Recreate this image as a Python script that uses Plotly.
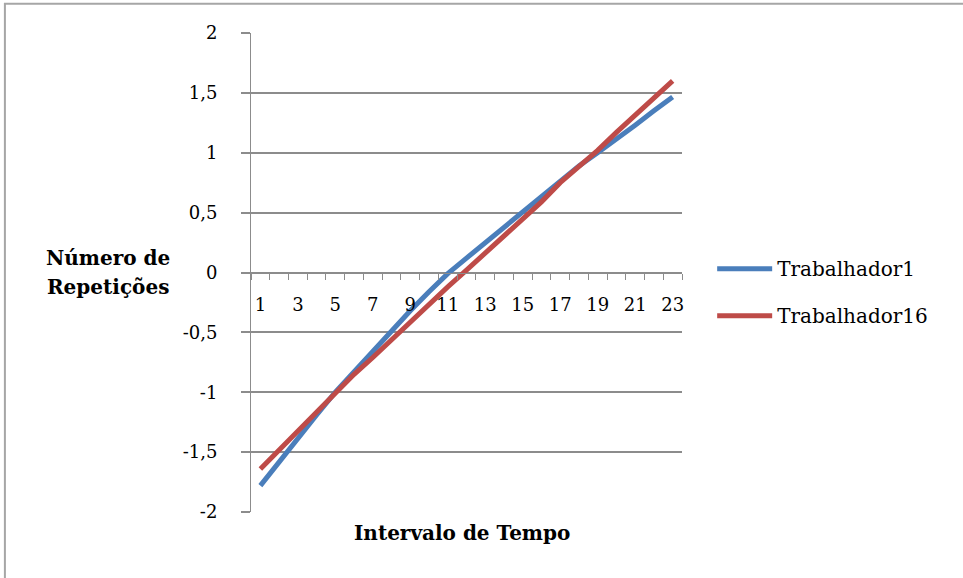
import plotly.graph_objects as go

categories = [1, 2, 3, 4, 5, 6, 7, 8, 9, 10, 11, 12, 13, 14, 15, 16, 17, 18, 19, 20, 21, 22, 23]
x_tick_vals = [1, 3, 5, 7, 9, 11, 13, 15, 17, 19, 21, 23]
x_tick_text = ["1", "3", "5", "7", "9", "11", "13", "15", "17", "19", "21", "23"]
x_boundaries = [0.5, 1.5, 2.5, 3.5, 4.5, 5.5, 6.5, 7.5, 8.5, 9.5, 10.5, 11.5,
                12.5, 13.5, 14.5, 15.5, 16.5, 17.5, 18.5, 19.5, 20.5, 21.5, 22.5, 23.5]

trabalhador1 = [-1.78, -1.58, -1.38, -1.19, -1.00, -0.83, -0.65, -0.48, -0.32, -0.16,
                -0.01, 0.12, 0.25, 0.38, 0.51, 0.64, 0.77, 0.89, 1.00, 1.11, 1.23, 1.35, 1.465]
trabalhador16 = [-1.64, -1.48, -1.32, -1.16, -1.00, -0.85, -0.71, -0.56, -0.41, -0.27,
                 -0.12, 0.02, 0.16, 0.31, 0.45, 0.59, 0.75, 0.88, 1.02, 1.17, 1.31, 1.45, 1.60]

y_tick_vals = [-2, -1.5, -1, -0.5, 0, 0.5, 1, 1.5, 2]
y_tick_text = ["-2", "-1,5", "-1", "-0,5", "0", "0,5", "1", "1,5", "2"]

series_names = ["Trabalhador1", "Trabalhador16"]
series_colors = ["#4A7EBB", "#BE4B48"]

FONT = "DejaVu Serif"
GRID = "#8c8c8c"

fig = go.Figure()
for name, vals, col in zip(series_names, [trabalhador1, trabalhador16], series_colors):
    fig.add_trace(go.Scatter(
        x=categories, y=vals, name=name, mode="lines", legendgroup=name,
        line=dict(color=col, width=5),
    ))

fig.update_layout(
    width=963, height=578,
    margin=dict(l=251, r=281, t=33, b=66),
    paper_bgcolor="white", plot_bgcolor="white",
    font=dict(family=FONT, size=18, color="black"),
    showlegend=True,
    legend=dict(x=1.07, y=0.459, xanchor="left", yanchor="middle",
                font=dict(family=FONT, size=20, color="black"),
                tracegroupgap=18, itemwidth=55, bgcolor="rgba(0,0,0,0)"),
    xaxis=dict(
        range=[0.5, 23.5], anchor="free", position=0.5,
        showline=True, linecolor=GRID, linewidth=1,
        tickvals=x_tick_vals, ticktext=x_tick_text, ticks="", ticklabelstandoff=16,
        tickfont=dict(family=FONT, size=18, color="black"),
        minor=dict(tickvals=x_boundaries, ticks="outside", ticklen=6, tickcolor=GRID, tickwidth=1, showgrid=False),
        showgrid=False, zeroline=False, fixedrange=True,
    ),
    yaxis=dict(
        range=[-2, 2], tickvals=y_tick_vals, ticktext=y_tick_text,
        showgrid=True, gridcolor=GRID, gridwidth=1.5,
        showline=True, linecolor=GRID, linewidth=1,
        ticks="outside", ticklen=9, tickcolor=GRID, tickwidth=1.5, ticklabelstandoff=20,
        tickfont=dict(family=FONT, size=18, color="black"),
        zeroline=False, fixedrange=True,
    ),
    shapes=[dict(type="rect", xref="paper", yref="paper", x0=-0.571, x1=1.8, y0=-0.3, y1=1.061,
                 line=dict(color="#a6a6a6", width=2), layer="below")],
    annotations=[
        dict(text="<b>Intervalo de Tempo</b>", xref="paper", yref="paper", x=0.49, y=-0.0445,
             xanchor="center", yanchor="middle", showarrow=False,
             font=dict(family=FONT, size=20, color="black")),
        dict(text="<b>Número de</b>", xref="paper", yref="paper", x=-0.332, y=0.530,
             xanchor="center", yanchor="middle", showarrow=False,
             font=dict(family=FONT, size=20, color="black")),
        dict(text="<b>Repetições</b>", xref="paper", yref="paper", x=-0.332, y=0.470,
             xanchor="center", yanchor="middle", showarrow=False,
             font=dict(family=FONT, size=20, color="black")),
    ],
)

fig.write_html("out.html", config={"displayModeBar": False},
               post_script="document.body.style.margin='0';")
